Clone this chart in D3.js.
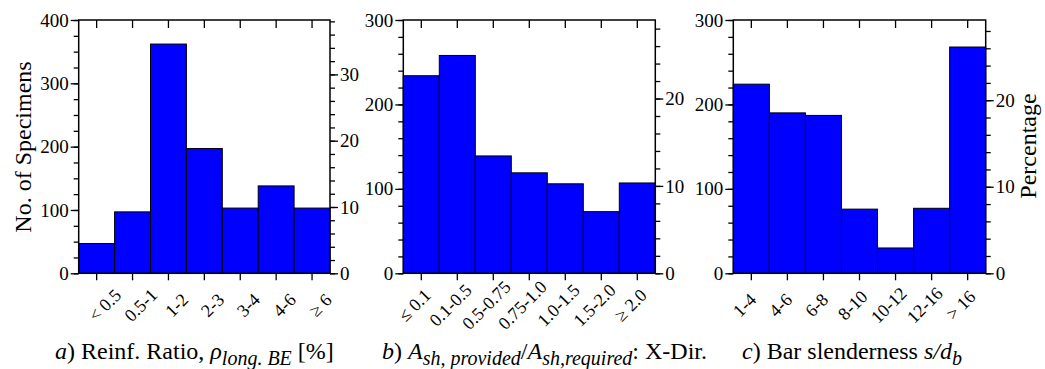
<!DOCTYPE html>
<html>
<head>
<meta charset="utf-8">
<script src="https://cdn.jsdelivr.net/npm/d3@7"></script>
<style>
  html, body { margin: 0; padding: 0; background: #fff; }
  svg { display: block; }
</style>
</head>
<body>
<svg id="chart" width="1045" height="369"></svg>
<script>
// ---- Data ----
const categoriesA = ["< 0.5", "0.5-1", "1-2", "2-3", "3-4", "4-6", "\u2265 6"];
const valuesA = [47, 97, 362, 197, 103, 138, 103];

const categoriesB = ["\u2264 0.1", "0.1-0.5", "0.5-0.75", "0.75-1.0", "1.0-1.5", "1.5-2.0", "\u2265 2.0"];
const valuesB = [234, 258, 139, 119, 106, 73, 107];

const categoriesC = ["1-4", "4-6", "6-8", "8-10", "10-12", "12-16", "> 16"];
const valuesC = [224, 190, 187, 76, 30, 77, 268];

// total specimens used for the percentage (right) axes
const totals = [1047, 1035, 1025];

const countMax = [400, 300, 300];
const countMajor = [100, 100, 100];
const countMinor = [25, 20, 20];
const pctMajorStep = 10;
const pctMinorStep = 2;

// ---- Layout ----
const FONT = "'Liberation Serif', serif";
const svg = d3.select("#chart");
const plotTop = 20, plotBottom = 273.3;
const panels = [
  { cats: categoriesA, vals: valuesA, x0: 78.7, x1: 330, labelDx: 8, capX: 55 },
  { cats: categoriesB, vals: valuesB, x0: 403.3, x1: 655.3, labelDx: -7, capX: 382 },
  { cats: categoriesC, vals: valuesC, x0: 733.3, x1: 985.7, labelDx: -7, capX: 742 }
];

function range(start, stop, step) {
  const out = [];
  for (let v = start; v <= stop + 1e-9; v += step) out.push(+v.toFixed(6));
  return out;
}

panels.forEach((p, i) => {
  const g = svg.append("g");
  const x = d3.scaleBand().domain(p.cats).range([p.x0, p.x1]).padding(0);
  const y = d3.scaleLinear().domain([0, countMax[i]]).range([plotBottom, plotTop]);
  const pctMax = countMax[i] / totals[i] * 100;
  const yP = d3.scaleLinear().domain([0, pctMax]).range([plotBottom, plotTop]);

  // bars
  g.selectAll("rect.bar").data(p.vals).join("rect")
    .attr("class", "bar")
    .attr("x", (d, j) => x(p.cats[j]))
    .attr("width", x.bandwidth())
    .attr("y", d => y(d))
    .attr("height", d => y(0) - y(d))
    .attr("fill", "#0000ff")
    .attr("stroke", "#000")
    .attr("stroke-width", 1);

  // left axis: minor then major
  const leftMinor = d3.axisLeft(y).tickValues(range(0, countMax[i], countMinor[i])).tickSize(5).tickFormat("");
  const leftMajor = d3.axisLeft(y).tickValues(range(0, countMax[i], countMajor[i])).tickSize(8).tickPadding(2).tickFormat(d3.format("d"));
  const gl1 = g.append("g").attr("transform", `translate(${p.x0},0)`).call(leftMinor);
  const gl2 = g.append("g").attr("transform", `translate(${p.x0},0)`).call(leftMajor);

  // right axis (percentage)
  const rightMinor = d3.axisRight(yP).tickValues(range(0, pctMax, pctMinorStep)).tickSize(5).tickFormat("");
  const rightMajor = d3.axisRight(yP).tickValues(range(0, pctMax, pctMajorStep)).tickSize(8).tickPadding(2).tickFormat(d3.format("d"));
  const gr1 = g.append("g").attr("transform", `translate(${p.x1},0)`).call(rightMinor);
  const gr2 = g.append("g").attr("transform", `translate(${p.x1},0)`).call(rightMajor);

  // bottom axis (outward ticks) and top axis (inward ticks)
  const bottomAx = d3.axisBottom(x).tickSize(7).tickFormat("");
  const topAx = d3.axisTop(x).tickSize(-8).tickFormat("");
  const gb = g.append("g").attr("transform", `translate(0,${plotBottom})`).call(bottomAx);
  const gt = g.append("g").attr("transform", `translate(0,${plotTop})`).call(topAx);

  [gl1, gl2, gr1, gr2, gb, gt].forEach(a => {
    a.attr("font-family", FONT).attr("font-size", 19);
    a.select(".domain").remove();
    a.selectAll(".tick line").attr("stroke", "#000").attr("stroke-width", 1.3);
    a.selectAll(".tick text").style("font-family", FONT).style("font-size", "19px").attr("fill", "#000");
  });

  // frame
  g.append("rect")
    .attr("x", p.x0).attr("y", plotTop)
    .attr("width", p.x1 - p.x0).attr("height", plotBottom - plotTop)
    .attr("fill", "none").attr("stroke", "#000").attr("stroke-width", 1.5);

  // rotated category labels
  g.selectAll("text.cat").data(p.cats).join("text")
    .attr("class", "cat")
    .style("font-family", FONT)
    .style("font-size", "18px")
    .attr("text-anchor", "middle")
    .attr("dy", "0.35em")
    .attr("transform", d => `translate(${x(d) + x.bandwidth() / 2 + p.labelDx},305) rotate(-45)`)
    .text(d => d);
});

// axis titles
svg.append("text")
  .style("font-family", FONT).style("font-size", "24px")
  .attr("text-anchor", "middle")
  .attr("transform", `translate(31,147) rotate(-90)`)
  .text("No. of Specimens");

svg.append("text")
  .style("font-family", FONT).style("font-size", "24px")
  .attr("text-anchor", "middle")
  .attr("transform", `translate(1036,146) rotate(-90)`)
  .text("Percentage");

// captions
const capY = 359;
const subDy = 6, subSize = "20px";

function caption(xPos) {
  return svg.append("text").attr("x", xPos).attr("y", capY)
    .style("font-family", FONT).style("font-size", "24px");
}

const capA = caption(panels[0].capX);
capA.append("tspan").attr("font-style", "italic").text("a");
capA.append("tspan").text(") Reinf. Ratio, ");
capA.append("tspan").attr("font-style", "italic").text("\u03C1");
capA.append("tspan").attr("font-style", "italic").style("font-size", subSize).attr("dy", subDy).text("long. BE");
capA.append("tspan").attr("dy", -subDy).text(" [%]");

const capB = caption(panels[1].capX);
capB.append("tspan").attr("font-style", "italic").text("b");
capB.append("tspan").text(") ");
capB.append("tspan").attr("font-style", "italic").text("A");
capB.append("tspan").attr("font-style", "italic").style("font-size", subSize).attr("dy", subDy).text("sh, provided");
capB.append("tspan").attr("dy", -subDy).text("/");
capB.append("tspan").attr("font-style", "italic").text("A");
capB.append("tspan").attr("font-style", "italic").style("font-size", subSize).attr("dy", subDy).text("sh,required");
capB.append("tspan").attr("dy", -subDy).text(": X-Dir.");

const capC = caption(panels[2].capX);
capC.append("tspan").attr("font-style", "italic").text("c");
capC.append("tspan").text(") Bar slenderness ");
capC.append("tspan").attr("font-style", "italic").text("s/d");
capC.append("tspan").attr("font-style", "italic").style("font-size", subSize).attr("dy", subDy).text("b");
</script>
</body>
</html>
